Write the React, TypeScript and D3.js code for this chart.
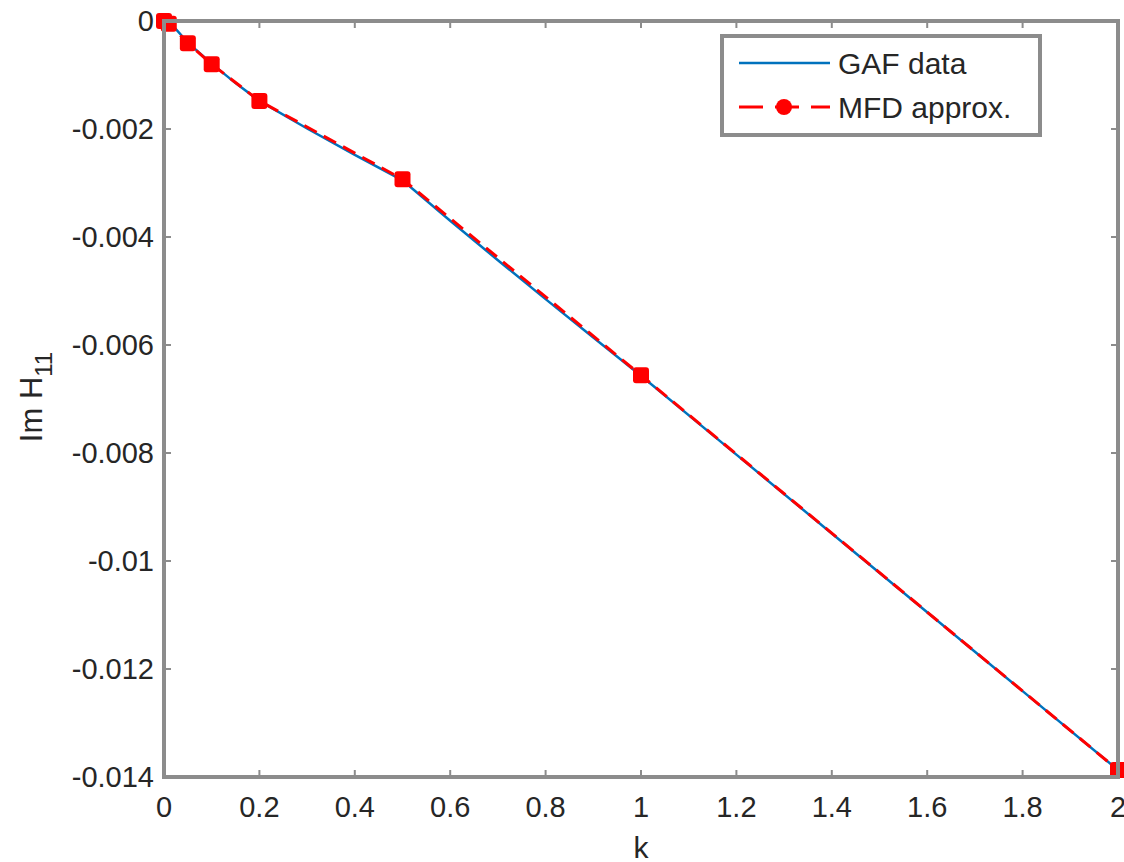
import React from "react";
import * as d3 from "d3";

const xTicks = [0, 0.2, 0.4, 0.6, 0.8, 1, 1.2, 1.4, 1.6, 1.8, 2];
const xTickLabels = ["0", "0.2", "0.4", "0.6", "0.8", "1", "1.2", "1.4", "1.6", "1.8", "2"];
const yTicks = [0, -0.002, -0.004, -0.006, -0.008, -0.01, -0.012, -0.014];
const yTickLabels = ["0", "-0.002", "-0.004", "-0.006", "-0.008", "-0.01", "-0.012", "-0.014"];

// GAF data (blue solid)
const gafK = [0, 0.02, 0.05, 0.1, 0.15, 0.2, 0.3, 0.4, 0.5, 0.6, 0.7, 0.8, 0.9, 1, 1.2, 1.4, 1.6, 1.8, 2];
const gafV = [0, -0.0001, -0.00040, -0.00079, -0.00115, -0.00148, -0.00199, -0.00248, -0.00295, -0.00370, -0.00443, -0.00515, -0.00586, -0.00657, -0.00803, -0.00949, -0.01095, -0.01241, -0.01387];

// MFD approx. (red dashed with markers)
const mfdK = [0, 0.01, 0.05, 0.1, 0.2, 0.5, 1, 2];
const mfdV = [0, -0.00005, -0.00041, -0.00080, -0.00148, -0.00293, -0.00656, -0.01387];

const W = 1124;
const H = 862;
const m = { left: 164, right: 1118, top: 21, bottom: 777 };

export default function App() {
  const x = d3.scaleLinear().domain([0, 2]).range([m.left, m.right]);
  const y = d3.scaleLinear().domain([-0.014, 0]).range([m.bottom, m.top]);
  const line = d3.line<[number, number]>().x((d) => x(d[0])).y((d) => y(d[1]));
  const gaf = gafK.map((k, i) => [k, gafV[i]] as [number, number]);
  const mfd = mfdK.map((k, i) => [k, mfdV[i]] as [number, number]);
  const axisColor = "#8c8c8c";
  const textColor = "#262626";
  const font = "Liberation Sans, Arial, sans-serif";
  const fs = 29;
  const tick = 7;
  const ms = 16;
  return (
    <svg width={W} height={H} style={{ position: "absolute", left: 0, top: 0, background: "#fff" }} fontFamily={font}>
      <rect x={0} y={0} width={W} height={H} fill="#fff" />
      {/* ticks */}
      {xTicks.map((t, i) => (
        <g key={"xt" + i}>
          <line x1={x(t)} x2={x(t)} y1={m.bottom} y2={m.bottom - tick} stroke={axisColor} strokeWidth={2} />
          <line x1={x(t)} x2={x(t)} y1={m.top} y2={m.top + tick} stroke={axisColor} strokeWidth={2} />
          <text x={x(t)} y={m.bottom + 40} textAnchor="middle" fontSize={fs} fill={textColor}>
            {xTickLabels[i]}
          </text>
        </g>
      ))}
      {yTicks.map((t, i) => (
        <g key={"yt" + i}>
          <line x1={m.left} x2={m.left + tick} y1={y(t)} y2={y(t)} stroke={axisColor} strokeWidth={2} />
          <line x1={m.right} x2={m.right - tick} y1={y(t)} y2={y(t)} stroke={axisColor} strokeWidth={2} />
          <text x={m.left - 10} y={y(t)} dy="0.35em" textAnchor="end" fontSize={fs} fill={textColor}>
            {yTickLabels[i]}
          </text>
        </g>
      ))}
      {/* data */}
      <path d={line(gaf) || ""} fill="none" stroke="#0072BD" strokeWidth={2.5} />
      <path d={line(mfd) || ""} fill="none" stroke="#ff0000" strokeWidth={3} strokeDasharray="14,8" />
      {mfd.map((d, i) => (
        <rect key={"mk" + i} x={x(d[0]) - ms / 2} y={y(d[1]) - ms / 2} width={ms} height={ms} rx={3} fill="#ff0000" />
      ))}
      {/* axes box */}
      <rect x={m.left} y={m.top} width={m.right - m.left} height={m.bottom - m.top} fill="none" stroke={axisColor} strokeWidth={4} />
      {/* labels */}
      <text x={x(1)} y={H - 4} textAnchor="middle" fontSize={30} fill={textColor}>k</text>
      <text transform={`translate(42, 397) rotate(-90)`} textAnchor="middle" fontSize={31} fill={textColor}>
        Im H<tspan fontSize={24} dy={10}>11</tspan>
      </text>
      {/* legend */}
      <rect x={722} y={36} width={318} height={99} fill="#fff" stroke={axisColor} strokeWidth={4} />
      <line x1={739} x2={830} y1={63} y2={63} stroke="#0072BD" strokeWidth={2.5} />
      <text x={838} y={63} dy="0.35em" fontSize={30} fill={textColor}>GAF data</text>
      <line x1={739} x2={830} y1={107} y2={107} stroke="#ff0000" strokeWidth={3} strokeDasharray="24,12" />
      <circle cx={784} cy={107} r={8} fill="#ff0000" />
      <text x={838} y={107} dy="0.35em" fontSize={30} fill={textColor}>MFD approx.</text>
    </svg>
  );
}
